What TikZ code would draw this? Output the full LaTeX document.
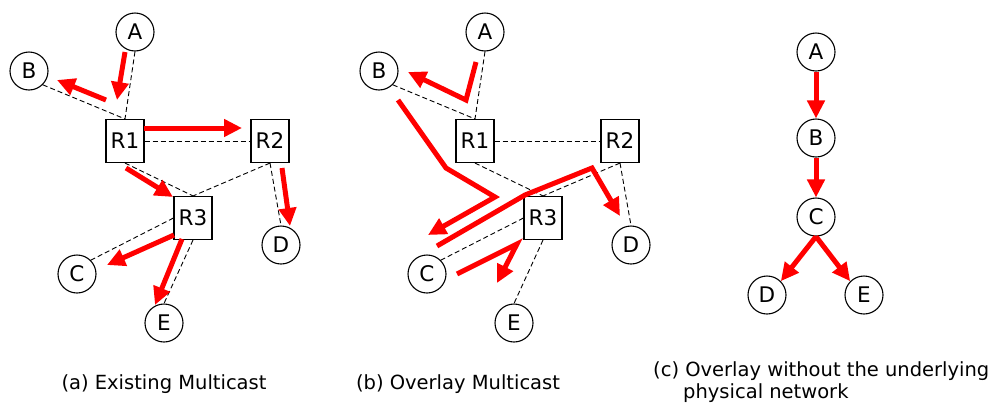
\documentclass[tikz,border=0pt]{standalone}
\usepackage{fontspec}
\setmainfont{DejaVu Sans}
\usetikzlibrary{arrows.meta}
\begin{document}
\begin{tikzpicture}[x=1pt,y=-1pt,
  host/.style={circle,draw,line width=1.1pt,minimum size=38pt,inner sep=0pt,
    font=\fontsize{21.5}{25}\selectfont},
  router/.style={rectangle,draw,line width=1.1pt,minimum width=38pt,minimum height=43pt,
    inner sep=0pt,font=\fontsize{21.5}{25}\selectfont},
  link/.style={line width=0.9pt,dash pattern=on 5pt off 3pt},
  flow/.style={draw=red,line width=5pt,line join=miter,
    -{Triangle[length=18pt,width=17pt,fill=red]}},
  caption/.style={font=\fontsize{19.5}{23}\selectfont,inner sep=0pt}]
\useasboundingbox (0,0) rectangle (994,405);

% ---------- (a) existing multicast ----------
\node[host]   (aA)  at (135,32)  {A};
\node[host]   (aB)  at (29,71)   {B};
\node[router] (aR1) at (125,141) {R1};
\node[router] (aR2) at (270,141) {R2};
\node[router] (aR3) at (193,218) {R3};
\node[host]   (aC)  at (77,274)  {C};
\node[host]   (aD)  at (281,245) {D};
\node[host]   (aE)  at (164,323) {E};

\draw[link] (aA.south) -- (aR1.north);
\draw[link] (aB.south east) -- (aR1.north);
\draw[link] (aR1.east) -- (aR2.west);
\draw[link] (aR1.south) -- (aR3.north);
\draw[link] (aR2.south) -- (aR3.north);
\draw[link] (aR2.south) -- (aD.north);
\draw[link] (aR3.west) -- (aC.north east);
\draw[link] (aR3.south) -- (aE.north);

\coordinate (a1) at (125,52);  \coordinate (a2) at (117,100);
\coordinate (a3) at (106,100); \coordinate (a4) at (57,80);
\coordinate (a5) at (144,128); \coordinate (a6) at (242,128);
\coordinate (a7) at (126,168); \coordinate (a8) at (173,197);
\coordinate (a9) at (282,168); \coordinate (a10) at (290,226);
\coordinate (a11) at (174,235); \coordinate (a12) at (107,265);
\coordinate (a13) at (182,239); \coordinate (a14) at (155,305);
\draw[flow] (a1) -- (a2);
\draw[flow] (a3) -- (a4);
\draw[flow] (a5) -- (a6);
\draw[flow] (a7) -- (a8);
\draw[flow] (a9) -- (a10);
\draw[flow] (a11) -- (a12);
\draw[flow] (a13) -- (a14);

% ---------- (b) overlay multicast ----------
\node[host]   (bA)  at (485,32)  {A};
\node[host]   (bB)  at (379,71)  {B};
\node[router] (bR1) at (475,141) {R1};
\node[router] (bR2) at (620,141) {R2};
\node[router] (bR3) at (543,218) {R3};
\node[host]   (bC)  at (427,274) {C};
\node[host]   (bD)  at (631,245) {D};
\node[host]   (bE)  at (514,323) {E};

\draw[link] (bA.south) -- (bR1.north);
\draw[link] (bB.south east) -- (bR1.north);
\draw[link] (bR1.east) -- (bR2.west);
\draw[link] (bR1.south) -- (bR3.north);
\draw[link] (bR2.south) -- (bR3.north);
\draw[link] (bR2.south) -- (bD.north);
\draw[link] (bR3.west) -- (bC.north east);
\draw[link] (bR3.south) -- (bE.north);

% A -> B
\coordinate (b1) at (476,62);  \coordinate (b2) at (466,100); \coordinate (b3) at (408,72);
% B -> C
\coordinate (b4) at (398,100); \coordinate (b5) at (446,168);
\coordinate (b6) at (495,197); \coordinate (b7) at (428,235);
% C -> D
\coordinate (b8) at (437,246); \coordinate (b9) at (525,195);
\coordinate (b10) at (592,168); \coordinate (b11) at (620,216);
% C -> E
\coordinate (b12) at (457,274); \coordinate (b13) at (517,244); \coordinate (b14) at (497,283);
\draw[flow] (b1) -- (b2) -- (b3);
\draw[flow] (b4) -- (b5) -- (b6) -- (b7);
\draw[flow] (b8) -- (b9) -- (b10) -- (b11);
\draw[flow] (b12) -- (b13) -- (b14);

% ---------- (c) overlay tree ----------
\node[host] (cA) at (816,52)  {A};
\node[host] (cB) at (816,138) {B};
\node[host] (cC) at (816,217) {C};
\node[host] (cD) at (767,295) {D};
\node[host] (cE) at (864,295) {E};
\draw[flow] (cA.south) -- (cB.north);
\draw[flow] (cB.south) -- (cC.north);
\draw[flow] (cC.south) -- (cD.north east);
\draw[flow] (cC.south) -- (cE.north west);

% ---------- captions ----------
\node[caption,anchor=base] (capa) at (164,389) {(a) Existing Multicast};
\node[caption,anchor=base] (capb) at (458,389) {(b) Overlay Multicast};
\node[caption,anchor=base west] (capc1) at (653,376) {(c) Overlay without the underlying};
\node[caption,anchor=base west] (capc2) at (683,398) {physical network};
\end{tikzpicture}
\end{document}
